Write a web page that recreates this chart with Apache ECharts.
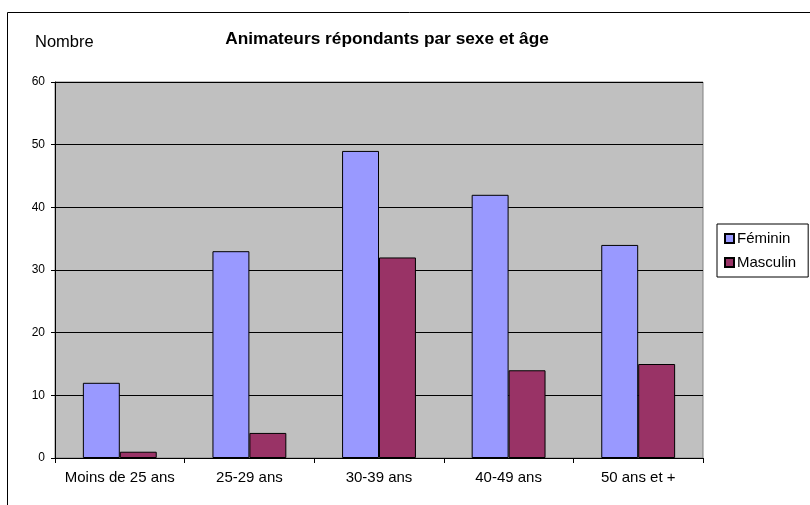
<!DOCTYPE html>
<html><head><meta charset="utf-8">
<script src="https://cdn.jsdelivr.net/npm/echarts@6/dist/echarts.min.js"></script>
<style>html,body{margin:0;padding:0;background:#fff}#c{width:810px;height:505px}</style>
</head><body><div id="c"></div>
<script>
const categories = ['Moins de 25 ans', '25-29 ans', '30-39 ans', '40-49 ans', '50 ans et +'];
const feminin = [12, 33, 49, 42, 34];
const masculin = [1, 4, 32, 14, 15];
const yTicks = [0, 10, 20, 30, 40, 50, 60];

const chart = echarts.init(document.getElementById('c'), null, {renderer: 'canvas'});
const F = '"Liberation Sans", Arial, sans-serif';
chart.setOption({
  animation: false,
  backgroundColor: '#fff',
  title: {
    text: 'Animateurs répondants par sexe et âge',
    left: 382, top: 26, textAlign: 'center',
    textStyle: {fontFamily: F, fontSize: 17.3, fontWeight: 'bold', color: '#000'}
  },
  graphic: [
    {type: 'rect', shape: {x: 7.5, y: 12.5, width: 900, height: 600}, style: {fill: 'none', stroke: '#000', lineWidth: 1}, z: -1},
    {type: 'text', left: 35, top: 34, style: {text: 'Nombre', font: '16.5px ' + F, fill: '#000'}}
  ],
  legend: {
    orient: 'vertical', left: 717, top: 224,
    padding: [7, 12, 7, 7], itemGap: 9, itemWidth: 9, itemHeight: 9,
    borderColor: '#000', borderWidth: 1, backgroundColor: '#fff',
    textStyle: {fontFamily: F, fontSize: 15, color: '#000', padding: [0, 0, 0, -2]},
    data: [{name: 'Féminin', icon: 'rect'}, {name: 'Masculin', icon: 'rect'}]
  },
  grid: {left: 55, top: 82, right: 107, bottom: 47, show: true, backgroundColor: '#c0c0c0', borderColor: '#808080', borderWidth: 1},
  xAxis: {
    type: 'category', data: categories,
    axisLine: {lineStyle: {color: '#000'}},
    axisTick: {show: true, length: 5, inside: false, lineStyle: {color: '#000'}},
    axisLabel: {fontFamily: F, fontSize: 15, color: '#000', margin: 12, interval: 0, hideOverlap: false}
  },
  yAxis: {
    type: 'value', min: yTicks[0], max: yTicks[yTicks.length - 1], interval: 10,
    axisLine: {show: true, lineStyle: {color: '#000'}},
    axisTick: {show: true, length: 4, lineStyle: {color: '#000'}},
    axisLabel: {fontFamily: F, fontSize: 12, color: '#000', margin: 10},
    splitLine: {lineStyle: {color: '#000', width: 1}}
  },
  series: [
    {name: 'Féminin', type: 'bar', data: feminin, barGap: '0%', barCategoryGap: '43%',
     itemStyle: {color: '#9999ff', borderColor: '#000', borderWidth: 1}},
    {name: 'Masculin', type: 'bar', data: masculin, barGap: '0%', barCategoryGap: '43%',
     itemStyle: {color: '#993366', borderColor: '#000', borderWidth: 1}}
  ]
});
</script></body></html>
